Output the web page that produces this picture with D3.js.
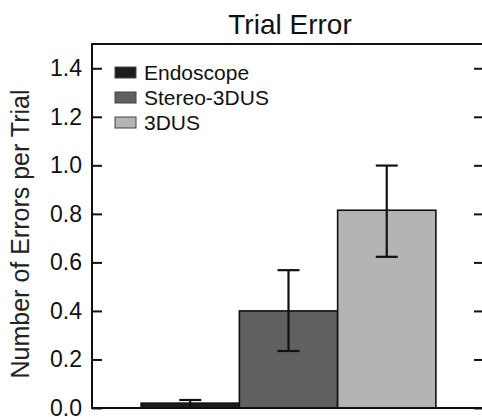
<!DOCTYPE html>
<html><head><meta charset="utf-8">
<script src="https://cdn.jsdelivr.net/npm/d3@7"></script>
<style>body{margin:0;background:#fff;} svg{display:block;font-family:"Liberation Sans",Arial,sans-serif;}</style>
</head><body>
<script>
const categories = ["Endoscope", "Stereo-3DUS", "3DUS"];
const means = [0.02, 0.40, 0.815];
const errLow = [0.013, 0.165, 0.192];
const errHigh = [0.013, 0.168, 0.184];
const colors = ["#1c1c1c", "#606060", "#b4b4b4"];
const yTicks = [0, 0.2, 0.4, 0.6, 0.8, 1.0, 1.2, 1.4];
const title = "Trial Error";
const yLabel = "Number of Errors per Trial";

const W = 482, H = 417;
const m = {left: 92, right: 485, top: 44, bottom: 408};
const svg = d3.select("body").append("svg").attr("width", W).attr("height", H);

const x = d3.scaleBand().domain(categories).range([m.left, m.right]).paddingInner(0).paddingOuter(0.5);
const y = d3.scaleLinear().domain([0, 1.5]).range([m.bottom, m.top]);

// bars
svg.selectAll("rect.bar").data(categories).enter().append("rect")
  .attr("class", "bar")
  .attr("x", d => x(d)).attr("width", x.bandwidth())
  .attr("y", (d, i) => y(means[i])).attr("height", (d, i) => y(0) - y(means[i]))
  .attr("fill", (d, i) => colors[i]).attr("stroke", "#111").attr("stroke-width", 1.6);

// error bars
const cap = 11;
categories.forEach((c, i) => {
  const cx = x(c) + x.bandwidth() / 2;
  const y1 = y(means[i] + errHigh[i]), y0 = y(Math.max(0, means[i] - errLow[i]));
  const g = svg.append("g").attr("stroke", "#111").attr("stroke-width", 2.2);
  g.append("line").attr("x1", cx).attr("x2", cx).attr("y1", y1).attr("y2", y0);
  g.append("line").attr("x1", cx - cap).attr("x2", cx + cap).attr("y1", y1).attr("y2", y1);
  if (means[i] - errLow[i] > 0.02)
    g.append("line").attr("x1", cx - cap).attr("x2", cx + cap).attr("y1", y0).attr("y2", y0);
});

// axes
const left = svg.append("g").attr("transform", `translate(${m.left},0)`)
  .call(d3.axisLeft(y).tickValues(yTicks).tickSizeInner(-10).tickSizeOuter(0).tickPadding(10).tickFormat(d3.format(".1f")));
left.select(".domain").remove();
left.selectAll(".tick line").attr("stroke", "#111").attr("stroke-width", 2);
left.selectAll(".tick text").attr("font-size", 23).attr("fill", "#111").attr("font-family", "Liberation Sans, Arial, sans-serif");

const right = svg.append("g").attr("transform", `translate(${m.right},0)`)
  .call(d3.axisRight(y).tickValues(yTicks).tickSizeInner(-11).tickSizeOuter(0).tickFormat(""));
right.select(".domain").remove();
right.selectAll(".tick line").attr("stroke", "#111").attr("stroke-width", 2);

// frame
svg.append("rect").attr("x", m.left).attr("y", m.top).attr("width", m.right - m.left).attr("height", m.bottom - m.top)
  .attr("fill", "none").attr("stroke", "#111").attr("stroke-width", 2);

// title
svg.append("text").attr("x", 290).attr("y", 34).attr("text-anchor", "middle")
  .attr("font-size", 28).attr("fill", "#111").text(title);

// y label
svg.append("text").attr("transform", "translate(29,234) rotate(-90)").attr("text-anchor", "middle")
  .attr("font-size", 25).attr("fill", "#222").text(yLabel);

// legend
const lg = svg.append("g");
categories.forEach((c, i) => {
  const yy = 72 + i * 25;
  lg.append("rect").attr("x", 115).attr("y", yy - 5).attr("width", 21).attr("height", 11)
    .attr("fill", colors[i]).attr("stroke", "#444").attr("stroke-width", 1);
  lg.append("text").attr("x", 144).attr("y", yy + 7.5).attr("font-size", 21).attr("fill", "#111").text(c);
});
</script>
</body></html>
